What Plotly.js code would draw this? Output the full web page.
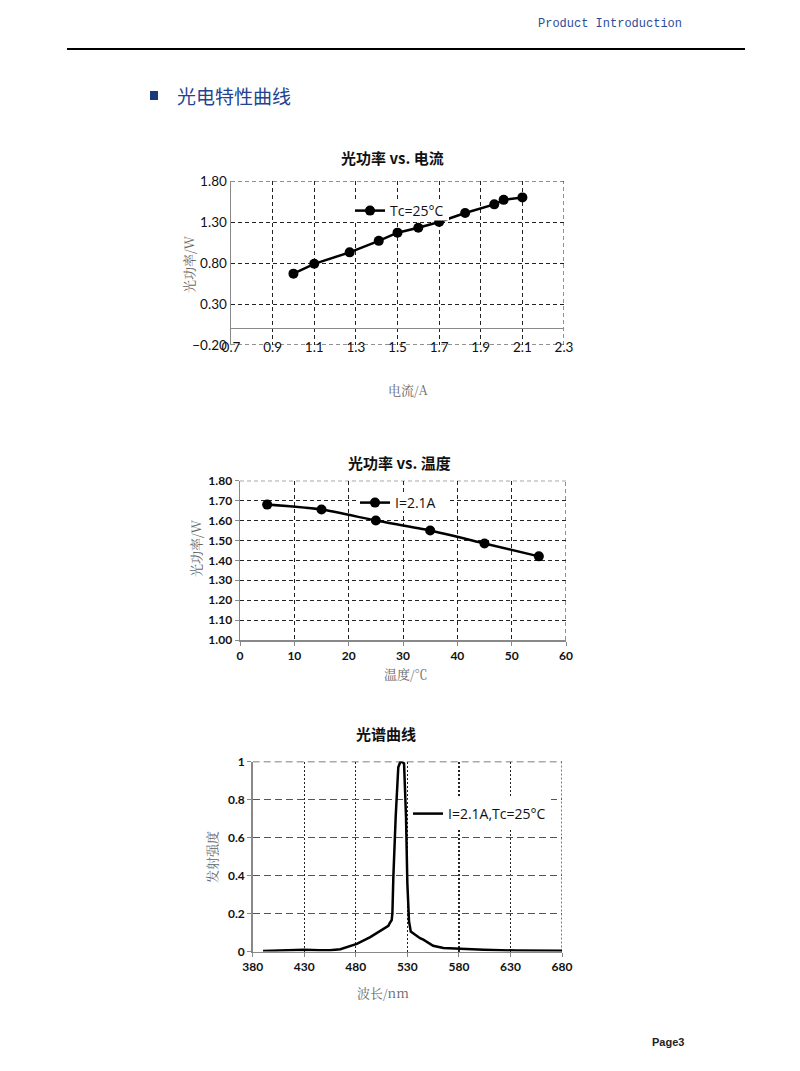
<!DOCTYPE html>
<html>
<head>
<meta charset="utf-8">
<script src="https://cdn.plot.ly/plotly-3.0.1.min.js"></script>
<style>
html,body{margin:0;padding:0;background:#fff;}
#chart{width:800px;height:1071px;}
</style>
</head>
<body>
<div id="chart"></div>
<script>
// ---- Data ----
const currentA = [1.0, 1.1, 1.27, 1.41, 1.5, 1.6, 1.7, 1.825, 1.965, 2.01, 2.1];
const powerVsCurrent = [0.67, 0.79, 0.93, 1.07, 1.17, 1.23, 1.30, 1.41, 1.515, 1.57, 1.60];

const temperatureC = [5, 15, 25, 35, 45, 55];
const powerVsTemp = [1.68, 1.655, 1.60, 1.55, 1.485, 1.42];

const wavelengthNm = [390, 410, 430, 445, 455, 465, 471, 481, 494, 505, 511.6, 513, 514.8, 515.5, 516.4, 518.7, 521.2, 523, 524.5, 526.8, 528.7, 530, 530.8, 531.6, 533.3, 538, 542.3, 545.5, 552, 555, 565, 581, 604, 636, 680];
const intensity = [0.002, 0.006, 0.009, 0.007, 0.006, 0.012, 0.023, 0.04, 0.076, 0.115, 0.135, 0.15, 0.165, 0.2, 0.39, 0.71, 0.97, 0.995, 1.0, 0.99, 0.71, 0.36, 0.2, 0.16, 0.105, 0.085, 0.07, 0.062, 0.038, 0.03, 0.018, 0.014, 0.009, 0.005, 0.004];

const x1Ticks = [0.7, 0.9, 1.1, 1.3, 1.5, 1.7, 1.9, 2.1, 2.3];
const y1Ticks = [-0.2, 0.3, 0.8, 1.3, 1.8];

// ---- helpers for layout positions ----
const W = 800, H = 1071;
const px = v => v / W;
const py = v => 1 - v / H;

const tickFont1 = {family: 'Lato, "Liberation Sans", sans-serif', size: 13.5, color: '#111'};
const tickFontB = {family: 'Lato, "Liberation Sans", sans-serif', size: 12, color: '#111', weight: 'bold'};
const cjkTitle = {family: '"Noto Sans CJK SC", sans-serif', size: 15, color: '#111', weight: 'bold'};
const axTitleFont = {family: '"Noto Serif CJK SC", "Noto Sans CJK SC", serif', size: 13, color: '#666'};
const legFont = {family: '"Open Sans", "Liberation Sans", sans-serif', size: 14, color: '#111'};

const traces = [
  {
    x: currentA, y: powerVsCurrent, xaxis: 'x', yaxis: 'y',
    type: 'scatter', mode: 'lines+markers', name: 'Tc=25°C',
    line: {color: '#000', width: 2.5}, marker: {color: '#000', size: 10},
    legend: 'legend'
  },
  {
    x: temperatureC, y: powerVsTemp, xaxis: 'x2', yaxis: 'y2',
    type: 'scatter', mode: 'lines+markers', name: 'I=2.1A',
    line: {color: '#000', width: 2.5, shape: 'spline', smoothing: 0.6}, marker: {color: '#000', size: 10},
    legend: 'legend2'
  },
  {
    x: wavelengthNm, y: intensity, xaxis: 'x3', yaxis: 'y3',
    type: 'scatter', mode: 'lines', name: 'I=2.1A,Tc=25°C',
    line: {color: '#000', width: 2.5},
    legend: 'legend3'
  }
];

const gridC = '#222';
const dash1 = '4px,3px';

// edge grid lines (Plotly drops grid lines lying on the plot edges)
function hEdge(xr, yr, yv, dash, color, width) {
  return {type: 'line', xref: xr + ' domain', yref: yr, x0: 0, x1: 1, y0: yv, y1: yv,
          line: {color: color, width: width, dash: dash}, layer: 'below'};
}
function vEdge(xr, yr, xv, dash, color, width) {
  return {type: 'line', xref: xr, yref: yr + ' domain', x0: xv, x1: xv, y0: 0, y1: 1,
          line: {color: color, width: width, dash: dash}, layer: 'below'};
}

const layout = {
  width: W, height: H, autosize: false,
  margin: {l: 0, r: 0, t: 0, b: 0},
  paper_bgcolor: '#fff', plot_bgcolor: '#fff',
  showlegend: true,
  // chart 1
  xaxis: {
    domain: [px(231), px(564)], anchor: 'y', range: [0.7, 2.3],
    tickvals: x1Ticks, ticktext: x1Ticks.map(v => String(v)),
    showgrid: true, gridcolor: gridC, griddash: dash1, gridwidth: 1,
    showline: false, zeroline: false, ticks: '',
    tickfont: tickFont1, ticklabelstandoff: -8
  },
  yaxis: {
    domain: [py(345), py(181)], anchor: 'x', range: [-0.2, 1.8],
    tickvals: y1Ticks, tickformat: '.2f',
    showgrid: true, gridcolor: gridC, griddash: dash1, gridwidth: 1,
    showline: true, linecolor: '#888', linewidth: 1.5,
    zeroline: true, zerolinecolor: '#888', zerolinewidth: 1.5,
    ticks: '', tickfont: tickFont1
  },
  // chart 2
  xaxis2: {
    domain: [px(240), px(566)], anchor: 'y2', range: [0, 60], dtick: 10,
    showgrid: true, gridcolor: gridC, griddash: dash1, gridwidth: 1,
    showline: true, linecolor: '#888', linewidth: 1.5, zeroline: false,
    ticks: 'outside', ticklen: 4, tickcolor: '#888',
    tickfont: tickFontB
  },
  yaxis2: {
    domain: [py(640), py(480.7)], anchor: 'x2', range: [1.0, 1.8], dtick: 0.1, tickformat: '.2f',
    showgrid: true, gridcolor: gridC, griddash: dash1, gridwidth: 1,
    showline: true, linecolor: '#888', linewidth: 1.5, zeroline: false,
    ticks: 'outside', ticklen: 4, tickcolor: '#888',
    tickfont: tickFontB
  },
  // chart 3
  xaxis3: {
    domain: [px(252.7), px(562)], anchor: 'y3', range: [380, 680], tick0: 380, dtick: 50,
    showgrid: true, gridcolor: gridC, griddash: '2px,2px', gridwidth: 1.2,
    showline: true, linecolor: '#888', linewidth: 1.5, zeroline: false,
    ticks: 'outside', ticklen: 4, tickcolor: '#888',
    tickfont: tickFontB
  },
  yaxis3: {
    domain: [py(951.5), py(761.5)], anchor: 'x3', range: [0, 1], dtick: 0.2,
    showgrid: true, gridcolor: '#555', griddash: '7px,4px', gridwidth: 1.5,
    showline: true, linecolor: '#888', linewidth: 1.5, zeroline: false,
    ticks: 'outside', ticklen: 4, tickcolor: '#888',
    tickfont: tickFontB
  },
  legend: {
    x: px(350), y: py(211), xanchor: 'left', yanchor: 'middle',
    bgcolor: 'rgba(255,255,255,0)', borderwidth: 0, font: legFont, itemwidth: 30
  },
  legend2: {
    x: px(355), y: py(503), xanchor: 'left', yanchor: 'middle',
    bgcolor: 'rgba(255,255,255,0)', borderwidth: 0, font: legFont, itemwidth: 30
  },
  legend3: {
    x: px(408), y: py(814), xanchor: 'left', yanchor: 'middle',
    bgcolor: '#fff', borderwidth: 0, font: legFont, itemwidth: 30
  },
  shapes: [
    {type: 'line', xref: 'paper', yref: 'paper', x0: px(67), x1: px(745), y0: py(49), y1: py(49),
     line: {color: '#000', width: 2}},
    {type: 'rect', xref: 'paper', yref: 'paper', x0: px(150), x1: px(158), y0: py(100), y1: py(91),
     fillcolor: '#1b3a7c', line: {width: 0}},
    // chart 1 edges
    hEdge('x', 'y', 1.8, dash1, gridC, 1),
    hEdge('x', 'y', -0.2, dash1, gridC, 1),
    vEdge('x', 'y', 2.3, dash1, gridC, 1),
    // legend 1 white background box (covers part of the line as in the reference)
    {type: 'rect', xref: 'paper', yref: 'paper', x0: px(351), x1: px(449), y0: py(220.5), y1: py(200),
     fillcolor: '#fff', line: {width: 0}, layer: 'above'},
    // chart 2 edges
    hEdge('x2', 'y2', 1.8, dash1, gridC, 1),
    vEdge('x2', 'y2', 60, dash1, gridC, 1),
    // legend 2 white background box (hides the grid behind the legend, clear of the data line)
    {type: 'rect', xref: 'paper', yref: 'paper', x0: px(356), x1: px(447), y0: py(511), y1: py(495),
     fillcolor: '#fff', line: {width: 0}, layer: 'above'},
    // chart 3 edges
    hEdge('x3', 'y3', 1, '7px,4px', '#555', 1.5),
    vEdge('x3', 'y3', 680, '2px,2px', gridC, 1.2)
  ],
  annotations: [
    {text: 'Product Introduction', xref: 'paper', yref: 'paper', x: px(684), y: py(24), xanchor: 'right', yanchor: 'middle',
     showarrow: false, font: {family: '"Liberation Mono", "DejaVu Sans Mono", monospace', size: 12, color: '#2b4c9b'}},
    {text: '光电特性曲线', xref: 'paper', yref: 'paper', x: px(175), y: py(95), xanchor: 'left', yanchor: 'middle',
     showarrow: false, font: {family: '"Noto Sans CJK SC", sans-serif', size: 19, color: '#23438f'}},
    {text: '光功率 vs. 电流', xref: 'paper', yref: 'paper', x: px(392), y: py(157), xanchor: 'center', yanchor: 'middle',
     showarrow: false, font: cjkTitle},
    {text: '光功率/W', xref: 'paper', yref: 'paper', x: px(188), y: py(264), xanchor: 'center', yanchor: 'middle',
     textangle: -90, showarrow: false, font: axTitleFont},
    {text: '电流/A', xref: 'paper', yref: 'paper', x: px(408), y: py(389), xanchor: 'center', yanchor: 'middle',
     showarrow: false, font: axTitleFont},
    {text: '光功率 vs. 温度', xref: 'paper', yref: 'paper', x: px(399), y: py(462), xanchor: 'center', yanchor: 'middle',
     showarrow: false, font: cjkTitle},
    {text: '光功率/W', xref: 'paper', yref: 'paper', x: px(195), y: py(548), xanchor: 'center', yanchor: 'middle',
     textangle: -90, showarrow: false, font: axTitleFont},
    {text: '温度/℃', xref: 'paper', yref: 'paper', x: px(406), y: py(673), xanchor: 'center', yanchor: 'middle',
     showarrow: false, font: axTitleFont},
    {text: '光谱曲线', xref: 'paper', yref: 'paper', x: px(386), y: py(733), xanchor: 'center', yanchor: 'middle',
     showarrow: false, font: cjkTitle},
    {text: '发射强度', xref: 'paper', yref: 'paper', x: px(211), y: py(857), xanchor: 'center', yanchor: 'middle',
     textangle: -90, showarrow: false, font: axTitleFont},
    {text: '波长/nm', xref: 'paper', yref: 'paper', x: px(383), y: py(992), xanchor: 'center', yanchor: 'middle',
     showarrow: false, font: axTitleFont},
    {text: 'Page3', xref: 'paper', yref: 'paper', x: px(650), y: py(1042), xanchor: 'left', yanchor: 'middle',
     showarrow: false, font: {family: '"Liberation Sans", sans-serif', size: 11, color: '#222', weight: 'bold'}}
  ]
};

Plotly.newPlot('chart', traces, layout, {displayModeBar: false, staticPlot: true});
</script>
</body>
</html>
